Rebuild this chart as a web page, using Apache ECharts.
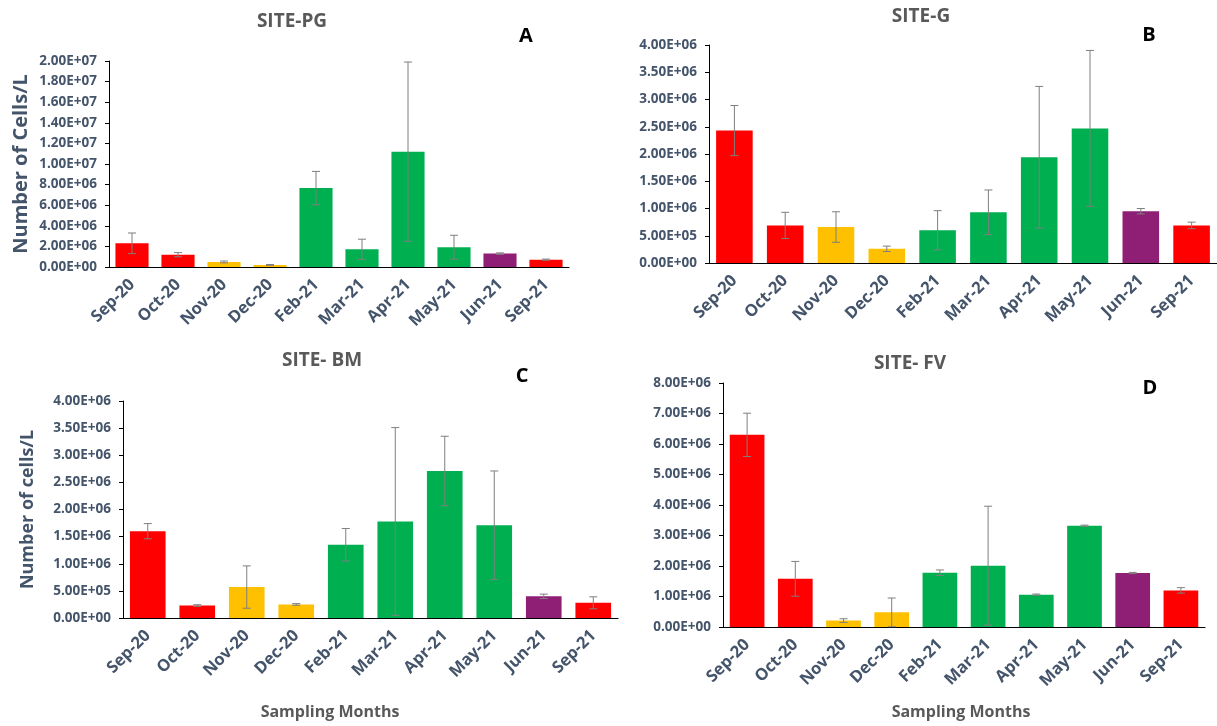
<!DOCTYPE html>
<html>
<head>
<meta charset="utf-8">
<title>Cell counts by sampling month</title>
<script src="https://cdn.jsdelivr.net/npm/echarts@6/dist/echarts.min.js"></script>
<style>
  html, body { margin: 0; padding: 0; background: #ffffff; }
  #chart { width: 1217px; height: 726px; }
</style>
</head>
<body>
<div id="chart"></div>
<script>
// Sampling months (x categories, shared by all four sites)
const months = ['Sep-20', 'Oct-20', 'Nov-20', 'Dec-20', 'Feb-21', 'Mar-21', 'Apr-21', 'May-21', 'Jun-21', 'Sep-21'];

// Mean cell counts (cells/L) and their error values per site
const pgMean = [2.30e6, 1.20e6, 0.49e6, 0.20e6, 7.66e6, 1.72e6, 11.2e6, 1.92e6, 1.30e6, 0.71e6];
const pgErr  = [1.00e6, 0.20e6, 0.09e6, 0.04e6, 1.62e6, 0.98e6, 8.70e6, 1.16e6, 0.07e6, 0.06e6];

const gMean = [2.43e6, 0.69e6, 0.66e6, 0.26e6, 0.60e6, 0.93e6, 1.94e6, 2.47e6, 0.95e6, 0.69e6];
const gErr  = [0.46e6, 0.24e6, 0.28e6, 0.05e6, 0.36e6, 0.41e6, 1.30e6, 1.43e6, 0.05e6, 0.06e6];

const bmMean = [1.60e6, 0.23e6, 0.57e6, 0.25e6, 1.35e6, 1.78e6, 2.71e6, 1.71e6, 0.40e6, 0.28e6];
const bmErr  = [0.14e6, 0.015e6, 0.39e6, 0.015e6, 0.30e6, 1.73e6, 0.64e6, 1.00e6, 0.04e6, 0.11e6];

const fvMean = [6.30e6, 1.58e6, 0.21e6, 0.48e6, 1.78e6, 2.01e6, 1.06e6, 3.32e6, 1.77e6, 1.20e6];
const fvErr  = [0.71e6, 0.57e6, 0.06e6, 0.47e6, 0.09e6, 1.95e6, 0.02e6, 0.02e6, 0.02e6, 0.09e6];

// Y-axis ranges and tick steps per site
const yMax  = [2.0e7, 4.0e6, 4.0e6, 8.0e6];
const yStep = [2.0e6, 5.0e5, 5.0e5, 1.0e6];

// Season colour of each month's bar
const RED = '#FF0000', YEL = '#FFC000', GRN = '#00B050', PUR = '#8E1F74';
const monthColors = [RED, RED, YEL, YEL, GRN, GRN, GRN, GRN, PUR, RED];

const FONT = '"Open Sans", "Noto Sans", sans-serif';
const TEXT = '#44546A';
const TITLE = '#595959';

// Panel frames (pixel boxes of the plotting areas)
const grids = [
  { left: 109, top: 61,  width: 460, height: 206 },
  { left: 709, top: 45,  width: 516, height: 218 },
  { left: 123, top: 401, width: 495, height: 217 },
  { left: 723, top: 383, width: 482, height: 244 }
];

const panels = [
  { mean: pgMean, err: pgErr, yName: 'Number of Cells/L', yNameSize: 20, yNameGap: 78 },
  { mean: gMean,  err: gErr,  yName: '', yNameSize: 18, yNameGap: 80 },
  { mean: bmMean, err: bmErr, yName: 'Number of cells/L', yNameSize: 18, yNameGap: 86 },
  { mean: fvMean, err: fvErr, yName: '', yNameSize: 18, yNameGap: 80 }
];

// 2.00E+07 style scientific labels
function sci(v) {
  if (v === 0) return '0.00E+00';
  const exp = Math.floor(Math.log10(Math.abs(v)) + 1e-9);
  const mant = v / Math.pow(10, exp);
  const e = (exp < 0 ? '-' : '+') + String(Math.abs(exp)).padStart(2, '0');
  return mant.toFixed(2) + 'E' + e;
}

// Vertical whisker with caps, placed through the value axis scale
function errorBarRenderer(params, api) {
  const idx = api.value(0);
  const v = api.value(1);
  const e = api.value(2);
  const top = api.coord([idx, v + e]);
  const bot = api.coord([idx, Math.max(0, v - e)]);
  const cap = 4;
  const style = { stroke: '#7F7F7F', lineWidth: 1 };
  return {
    type: 'group',
    children: [
      { type: 'line', shape: { x1: top[0], y1: top[1], x2: bot[0], y2: bot[1] }, style: style },
      { type: 'line', shape: { x1: top[0] - cap, y1: top[1], x2: top[0] + cap, y2: top[1] }, style: style },
      { type: 'line', shape: { x1: bot[0] - cap, y1: bot[1], x2: bot[0] + cap, y2: bot[1] }, style: style }
    ]
  };
}

const xAxes = [], yAxes = [], series = [];
panels.forEach((p, i) => {
  xAxes.push({
    type: 'category', gridIndex: i, data: months,
    axisLine: { lineStyle: { color: '#000000', width: 1.2 } },
    axisTick: { show: false },
    axisLabel: { rotate: 45, interval: 0, margin: 15, color: TEXT, fontFamily: FONT, fontWeight: 'bold', fontSize: 16.5 }
  });
  yAxes.push({
    type: 'value', gridIndex: i, min: 0, max: yMax[i], interval: yStep[i],
    splitLine: { show: false },
    axisLine: { show: true, lineStyle: { color: '#000000', width: 1 } },
    axisTick: { show: true, inside: false, length: 4, lineStyle: { color: '#000000' } },
    axisLabel: { formatter: sci, margin: 12, color: TEXT, fontFamily: FONT, fontWeight: 'bold', fontSize: 13.5 },
    name: p.yName, nameLocation: 'middle', nameGap: p.yNameGap, nameRotate: 90,
    nameTextStyle: { color: TEXT, fontFamily: FONT, fontWeight: 'bold', fontSize: p.yNameSize }
  });
  series.push({
    type: 'bar', xAxisIndex: i, yAxisIndex: i, barCategoryGap: '28%',
    data: p.mean.map((v, k) => ({ value: v, itemStyle: { color: monthColors[k] } })),
    silent: true
  });
  series.push({
    type: 'custom', xAxisIndex: i, yAxisIndex: i, z: 5, silent: true,
    renderItem: errorBarRenderer,
    encode: { x: 0, y: 1 },
    data: p.mean.map((v, k) => [k, v, p.err[k]])
  });
});

const titleStyle = { fill: TITLE, fontFamily: FONT, fontWeight: 'bold', fontSize: 19 };
const letterStyle = { fill: '#000000', fontFamily: FONT, fontWeight: 'bold', fontSize: 20 };
const xNameStyle = { fill: TITLE, fontFamily: FONT, fontWeight: 'bold', fontSize: 16 };

function label(text, x, y, st) {
  return { type: 'text', x: x, y: y, style: Object.assign({ text: text, align: 'center', verticalAlign: 'middle' }, st) };
}

const chart = echarts.init(document.getElementById('chart'), null, { renderer: 'canvas' });
chart.setOption({
  backgroundColor: '#ffffff',
  animation: false,
  grid: grids,
  xAxis: xAxes,
  yAxis: yAxes,
  series: series,
  graphic: [
    label('SITE-PG', 292, 22, titleStyle),
    label('SITE-G', 921, 17, titleStyle),
    label('SITE- BM', 322, 361, titleStyle),
    label('SITE- FV', 910, 364, titleStyle),
    label('A', 526, 36, letterStyle),
    label('B', 1149, 35, letterStyle),
    label('C', 522, 376, letterStyle),
    label('D', 1150, 388, letterStyle),
    label('Sampling Months', 330, 712, xNameStyle),
    label('Sampling Months', 961, 712, xNameStyle)
  ]
});
</script>
</body>
</html>
